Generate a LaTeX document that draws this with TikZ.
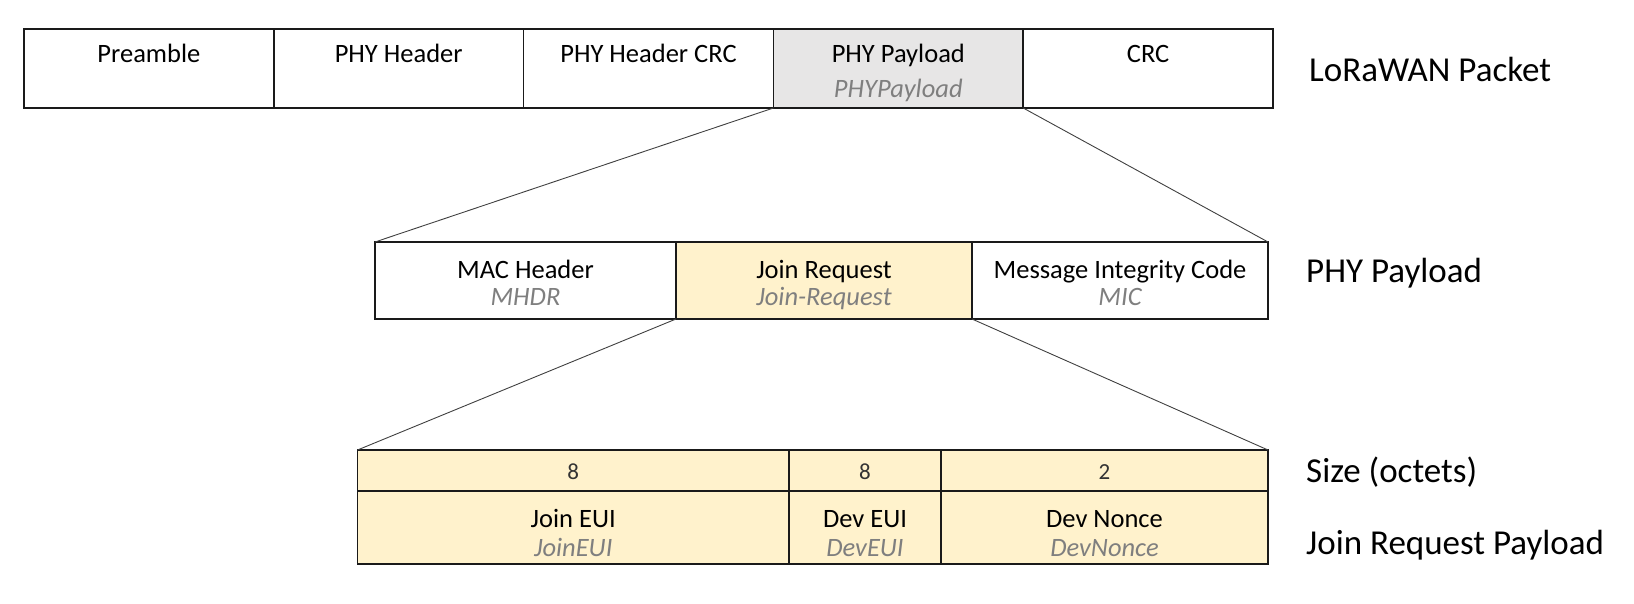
\documentclass[tikz,border=0pt]{standalone}
\usepackage{fontspec}
\setmainfont{Carlito}
\definecolor{grayfill}{HTML}{E7E6E6}
\definecolor{yelfill}{HTML}{FFF2CC}
\definecolor{subtxt}{HTML}{7F7F7F}
\definecolor{edge}{HTML}{1A1A1A}
\definecolor{conn}{HTML}{404040}
\begin{document}
\begin{tikzpicture}[x=1pt,y=-1pt,
  cell/.style={draw=edge,line width=1.5pt,rectangle,inner sep=0pt,outer sep=0pt},
  main/.style={font=\fontsize{26.5}{30}\selectfont,anchor=base,inner sep=0pt},
  sub/.style={font=\fontsize{26.5}{30}\selectfont\itshape,text=subtxt,anchor=base,inner sep=0pt},
  num/.style={font=\fontsize{23}{27}\selectfont,text=black!80,anchor=base,inner sep=0pt},
  side/.style={font=\fontsize{35}{41}\selectfont,anchor=base west,inner sep=0pt},
  link/.style={draw=conn,line width=0.9pt}]
\useasboundingbox (0,0) rectangle (1634,604);
% top row
\node[cell,minimum width=249.8pt,minimum height=79pt] (pre) at (148.9,68.5) {};
\node[cell,minimum width=249.8pt,minimum height=79pt] (phh) at (398.7,68.5) {};
\node[cell,minimum width=249.8pt,minimum height=79pt] (hcrc) at (648.5,68.5) {};
\node[cell,fill=grayfill,minimum width=249.8pt,minimum height=79pt] (pp) at (898.3,68.5) {};
\node[cell,minimum width=249.8pt,minimum height=79pt] (crc) at (1148.1,68.5) {};
\node[main] (tpre) at (148.9,62.5) {Preamble};
\node[main] (tphh) at (398.7,62.5) {PHY Header};
\node[main] (thcrc) at (648.5,62.5) {PHY Header CRC};
\node[main] (tpp) at (898.3,62.5) {PHY Payload};
\node[sub] (spp) at (898.3,97.5) {PHYPayload};
\node[main] (tcrc) at (1148.1,62.5) {CRC};
\node[side] (lpkt) at (1309,82) {LoRaWAN Packet};
% middle row
\node[cell,minimum width=301pt,minimum height=77pt] (mac) at (525.5,280.5) {};
\node[cell,fill=yelfill,minimum width=296pt,minimum height=77pt] (jr) at (824,280.5) {};
\node[cell,minimum width=296pt,minimum height=77pt] (mic) at (1120,280.5) {};
\node[main] (tmac) at (525.5,278.5) {MAC Header};
\node[sub] (smac) at (525.5,305.5) {MHDR};
\node[main] (tjr) at (824,278.5) {Join Request};
\node[sub] (sjr) at (824,305.5) {Join-Request};
\node[main] (tmic) at (1120,278.5) {Message Integrity Code};
\node[sub] (smic) at (1120,305.5) {MIC};
\node[side] (lphy) at (1306,283) {PHY Payload};
% bottom table
\node[cell,fill=yelfill,minimum width=431.5pt,minimum height=41pt] (s1) at (573.25,470.5) {};
\node[cell,fill=yelfill,minimum width=152pt,minimum height=41pt] (s2) at (865,470.5) {};
\node[cell,fill=yelfill,minimum width=327pt,minimum height=41pt] (s3) at (1104.5,470.5) {};
\node[cell,fill=yelfill,minimum width=431.5pt,minimum height=73pt] (f1) at (573.25,527.5) {};
\node[cell,fill=yelfill,minimum width=152pt,minimum height=73pt] (f2) at (865,527.5) {};
\node[cell,fill=yelfill,minimum width=327pt,minimum height=73pt] (f3) at (1104.5,527.5) {};
\node[num] (n1) at (573.25,479) {8};
\node[num] (n2) at (865,479) {8};
\node[num] (n3) at (1104.5,479) {2};
\node[main] (tf1) at (573.25,527) {Join EUI};
\node[sub] (sf1) at (573.25,556) {JoinEUI};
\node[main] (tf2) at (865,527) {Dev EUI};
\node[sub] (sf2) at (865,556) {DevEUI};
\node[main] (tf3) at (1104.5,527) {Dev Nonce};
\node[sub] (sf3) at (1104.5,556) {DevNonce};
\node[side] (lsize) at (1306,482) {Size (octets)};
\node[side] (ljrp) at (1306,554) {Join Request Payload};
% connectors
\draw[link] (pp.south west) -- (mac.north west);
\draw[link] (pp.south east) -- (mic.north east);
\draw[link] (jr.south west) -- (s1.north west);
\draw[link] (jr.south east) -- (s3.north east);
\end{tikzpicture}
\end{document}
